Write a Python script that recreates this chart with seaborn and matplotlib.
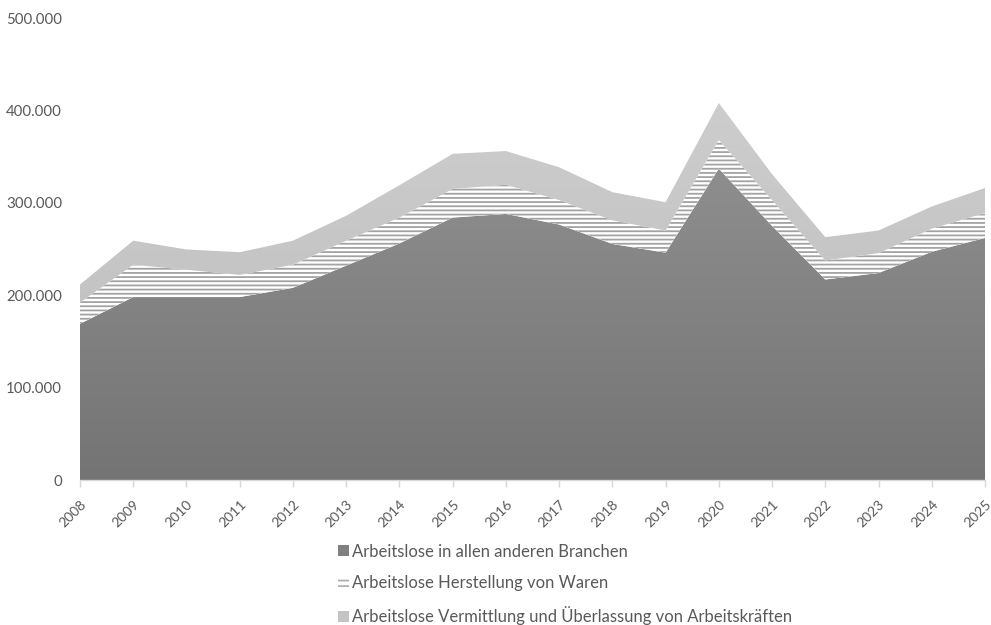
import numpy as np
import matplotlib
matplotlib.use("Agg")
import matplotlib.pyplot as plt
from matplotlib.patches import Patch
from matplotlib.colors import LinearSegmentedColormap
from matplotlib.ticker import FuncFormatter
import seaborn as sns

# Arbeitslose nach Branchen, 2008-2025
jahre = [2008, 2009, 2010, 2011, 2012, 2013, 2014, 2015, 2016,
         2017, 2018, 2019, 2020, 2021, 2022, 2023, 2024, 2025]
andere_branchen = [169000, 198000, 198000, 198000, 208000, 232000, 256000, 284000, 288000,
                   276500, 255500, 246000, 337000, 275000, 217000, 224000, 247000, 262000]
herstellung = [23000, 35000, 29500, 24000, 25000, 27000, 28000, 31000, 31500,
               26500, 25500, 24000, 31000, 28000, 20600, 21500, 25000, 27000]
vermittlung = [19500, 26000, 22000, 24500, 26000, 27000, 35000, 38000, 36500,
               35500, 30500, 30600, 40000, 28000, 25200, 24500, 24000, 27000]

labels = ["Arbeitslose in allen anderen Branchen",
          "Arbeitslose Herstellung von Waren",
          "Arbeitslose Vermittlung und Überlassung von Arbeitskräften"]
y_ticks = [0, 100000, 200000, 300000, 400000, 500000]

sns.set_style("white")
plt.rcParams["font.family"] = ["Lato", "DejaVu Sans"]
plt.rcParams["hatch.linewidth"] = 1.3

fig = plt.figure(figsize=(9.91, 6.25), dpi=100)
ax = fig.add_axes([80 / 991, 1 - 480 / 625, (985 - 80) / 991, (480 - 18) / 625])

x = np.array(jahre, dtype=float)
s1 = np.array(andere_branchen, dtype=float)
s2 = s1 + np.array(herstellung, dtype=float)
s3 = s2 + np.array(vermittlung, dtype=float)


def gradient_fill(lower, upper, c_top, c_bottom, z):
    """Fill between two curves with a vertical colour gradient."""
    poly = ax.fill_between(x, lower, upper, facecolor="none", linewidth=0, zorder=z)
    cmap = LinearSegmentedColormap.from_list("g", [c_bottom, c_top])
    grad = np.linspace(0, 1, 256).reshape(-1, 1)
    im = ax.imshow(grad, extent=[x[0], x[-1], 0, upper.max()], origin="lower",
                   aspect="auto", cmap=cmap, zorder=z, interpolation="bilinear")
    im.set_clip_path(poly.get_paths()[0], transform=ax.transData)


# bottom series: dark grey gradient
gradient_fill(np.zeros_like(s1), s1, "#8e8e8e", "#747474", 2)
# middle series: white with horizontal hatch
ax.fill_between(x, s1, s2, facecolor="white", edgecolor="#a3a3a3", hatch="----",
                linewidth=0, zorder=2)
# top series: light grey gradient
gradient_fill(s2, s3, "#cdcdcd", "#bbbbbb", 2)

ax.set_xlim(jahre[0], jahre[-1])
ax.set_ylim(0, 500000)
ax.set_xticks(jahre)
ax.set_xticklabels([str(j) for j in jahre], rotation=45, ha="right",
                   rotation_mode="anchor", fontsize=10, color="#595959")
ax.set_yticks(y_ticks)
ax.yaxis.set_major_formatter(FuncFormatter(lambda v, p: f"{int(v):,}".replace(",", ".")))
ax.tick_params(axis="y", length=0, pad=13, labelsize=10.8, labelcolor="#595959")
ax.tick_params(axis="x", length=5, width=1, color="#d9d9d9", pad=8,
               direction="out", bottom=True)

for side in ["left", "right", "top"]:
    ax.spines[side].set_visible(False)
ax.spines["bottom"].set_color("#d9d9d9")
ax.spines["bottom"].set_linewidth(1)
ax.spines["bottom"].set_zorder(5)
ax.grid(False)

handles = [
    Patch(facecolor="#808080", edgecolor="none", label=labels[0]),
    Patch(facecolor="white", edgecolor="#b0b0b0", hatch="---", linewidth=0, label=labels[1]),
    Patch(facecolor="#c4c4c4", edgecolor="none", label=labels[2]),
]
fig.legend(handles=handles, loc="upper left", bbox_to_anchor=(331 / 991, 1 - 537 / 625),
           frameon=False, fontsize=12, labelcolor="#595959", handlelength=0.65,
           handleheight=0.65, handletextpad=0.2, labelspacing=0.92, borderaxespad=0)

fig.savefig("out.png", dpi=100)
